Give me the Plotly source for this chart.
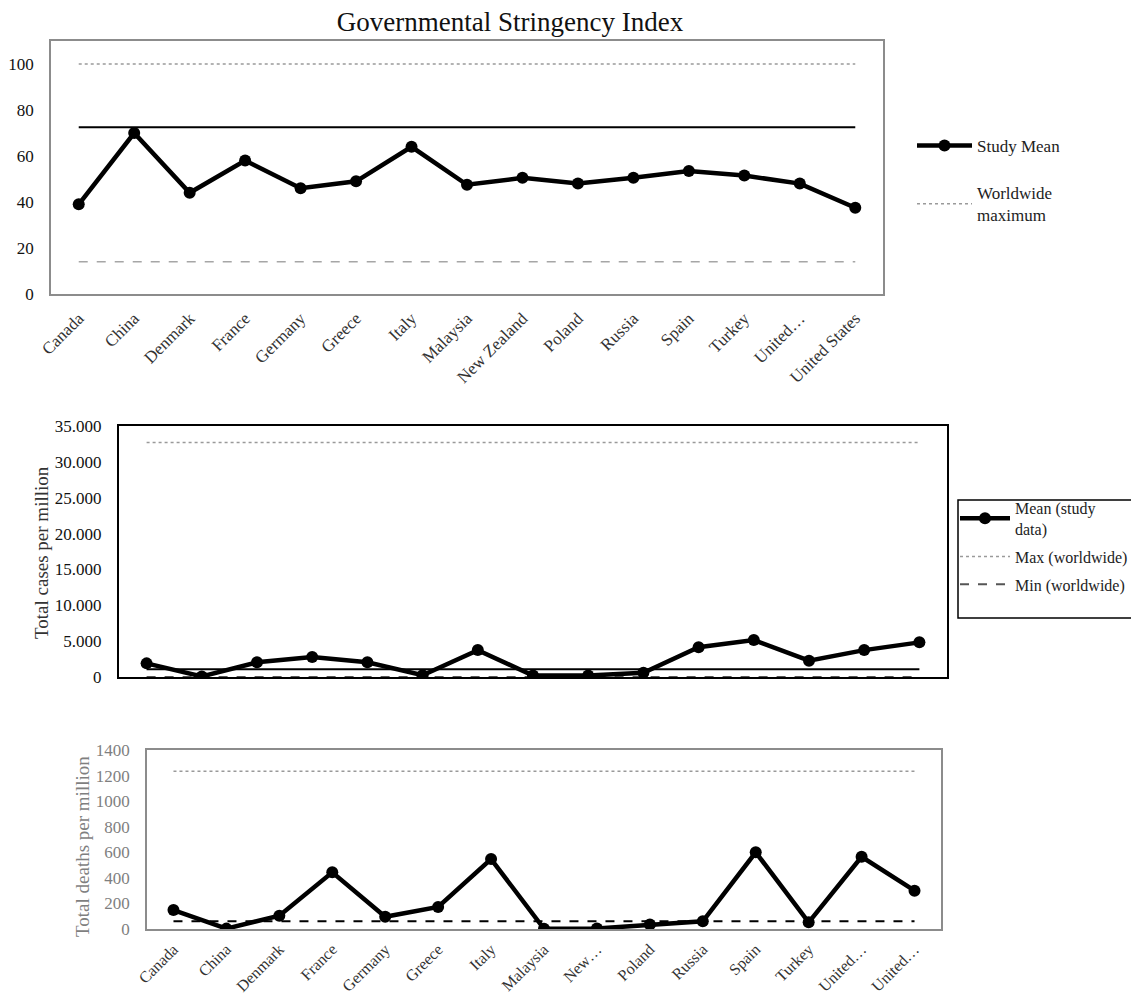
import plotly.graph_objects as go

# ---------------- data ----------------
countries = ["Canada", "China", "Denmark", "France", "Germany", "Greece", "Italy",
             "Malaysia", "New Zealand", "Poland", "Russia", "Spain", "Turkey",
             "United Kingdom", "United States"]
top_tick_labels = ["Canada", "China", "Denmark", "France", "Germany", "Greece", "Italy",
                   "Malaysia", "New Zealand", "Poland", "Russia", "Spain", "Turkey",
                   "United…", "United States"]
bottom_tick_labels = ["Canada", "China", "Denmark", "France", "Germany", "Greece", "Italy",
                      "Malaysia", "New…", "Poland", "Russia", "Spain", "Turkey",
                      "United…", "United…"]

stringency_study_mean = [39, 70, 44, 58, 46, 49, 64, 47.5, 50.5, 48, 50.5, 53.5, 51.5, 48, 37.5]
stringency_world_mean = 72.5
stringency_world_max = 100
stringency_world_min = 14

cases_study_mean = [1900, 80, 2050, 2800, 2050, 250, 3750, 200, 200, 600, 4150, 5150, 2270, 3750, 4830]
cases_world_mean = 1070
cases_world_max = 32700
cases_world_min = 0

deaths_study_mean = [148, 3, 104, 443, 96, 172, 547, 2, 4, 36, 60, 600, 52, 565, 300]
deaths_world_max = 1234
deaths_world_min = 60

stringency_ticks = [0, 20, 40, 60, 80, 100]
cases_ticks = [0, 5000, 10000, 15000, 20000, 25000, 30000, 35000]
cases_tick_text = ["0", "5.000", "10.000", "15.000", "20.000", "25.000", "30.000", "35.000"]
deaths_ticks = [0, 200, 400, 600, 800, 1000, 1200, 1400]

# ---------------- layout helpers ----------------
PAGE_W, PAGE_H = 1139, 999
OFF = 8  # default page body margin
W, H = PAGE_W - OFF, PAGE_H - OFF
FONT = "Liberation Serif, Times New Roman, serif"


def fx(px):
    return (px - OFF) / W


def fy(py):
    return 1 - (py - OFF) / H


def const(v):
    return [v] * len(countries)


fig = go.Figure()

# ---------- top chart: stringency ----------
fig.add_trace(go.Scatter(x=countries, y=const(stringency_world_max), mode="lines",
                         line=dict(color="#9a9a9a", width=1.5, dash="dot"),
                         name="Worldwide<br>maximum", legend="legend", legendgroup="b",
                         xaxis="x", yaxis="y", legendrank=2))
fig.add_trace(go.Scatter(x=countries, y=const(stringency_world_mean), mode="lines",
                         line=dict(color="black", width=2), showlegend=False,
                         name="Worldwide mean", xaxis="x", yaxis="y"))
fig.add_trace(go.Scatter(x=countries, y=const(stringency_world_min), mode="lines",
                         line=dict(color="#a6a6a6", width=1.5, dash="dash"), showlegend=False,
                         name="Worldwide minimum", xaxis="x", yaxis="y"))
fig.add_trace(go.Scatter(x=countries, y=stringency_study_mean, mode="lines+markers",
                         line=dict(color="black", width=4.5),
                         marker=dict(color="black", size=12),
                         name="Study Mean", legend="legend", legendgroup="a",
                         xaxis="x", yaxis="y", legendrank=1))

# ---------- middle chart: cases ----------
fig.add_trace(go.Scatter(x=countries, y=const(cases_world_max), mode="lines",
                         line=dict(color="#9a9a9a", width=1.5, dash="dot"),
                         name="Max (worldwide)", legend="legend2", legendgroup="m2",
                         xaxis="x2", yaxis="y2", legendrank=2))
fig.add_trace(go.Scatter(x=countries, y=const(cases_world_mean), mode="lines",
                         line=dict(color="black", width=2), showlegend=False,
                         name="Mean (worldwide)", xaxis="x2", yaxis="y2"))
fig.add_trace(go.Scatter(x=countries, y=const(cases_world_min), mode="lines",
                         line=dict(color="#555555", width=2, dash="dash"),
                         name="Min (worldwide)", legend="legend2", legendgroup="m3",
                         xaxis="x2", yaxis="y2", legendrank=3))
fig.add_trace(go.Scatter(x=countries, y=cases_study_mean, mode="lines+markers",
                         line=dict(color="black", width=4.5),
                         marker=dict(color="black", size=12),
                         name="Mean (study<br>data)", legend="legend2", legendgroup="m1",
                         xaxis="x2", yaxis="y2", legendrank=1))

# ---------- bottom chart: deaths ----------
fig.add_trace(go.Scatter(x=countries, y=const(deaths_world_max), mode="lines",
                         line=dict(color="#9a9a9a", width=1.5, dash="dot"), showlegend=False,
                         name="Max (worldwide)", xaxis="x3", yaxis="y3"))
fig.add_trace(go.Scatter(x=countries, y=const(deaths_world_min), mode="lines",
                         line=dict(color="black", width=2, dash="dash"), showlegend=False,
                         name="Min (worldwide)", xaxis="x3", yaxis="y3"))
fig.add_trace(go.Scatter(x=countries, y=deaths_study_mean, mode="lines+markers",
                         line=dict(color="black", width=4.5),
                         marker=dict(color="black", size=12), showlegend=False,
                         name="Mean (study data)", xaxis="x3", yaxis="y3"))

common_x = dict(type="category", categoryorder="array", categoryarray=countries,
                range=[-0.5, len(countries) - 0.5], showgrid=False, zeroline=False,
                mirror=True, showline=True, ticks="", fixedrange=True)
common_y = dict(showgrid=False, zeroline=False, mirror=True, showline=True, ticks="",
                ticklabelstandoff=12, fixedrange=True)

fig.update_layout(
    width=W, height=H,
    margin=dict(l=0, r=0, t=0, b=0, autoexpand=False),
    paper_bgcolor="white", plot_bgcolor="white",
    font=dict(family=FONT, size=17, color="black"),
    title=dict(text="Governmental Stringency Index", x=fx(510), xanchor="center",
               y=fy(22), yanchor="middle", font=dict(family=FONT, size=27, color="#111111")),
    xaxis=dict(common_x, domain=[fx(51), fx(883)], anchor="y",
               tickvals=countries, ticktext=top_tick_labels, tickangle=-45,
               linecolor="#8c8c8c", linewidth=1.5, ticklabelstandoff=6,
               tickfont=dict(family=FONT, size=17, color="#333333")),
    yaxis=dict(common_y, domain=[fy(294), fy(41)], anchor="x", range=[0, 110],
               tickvals=stringency_ticks, linecolor="#8c8c8c", linewidth=1.5,
               tickfont=dict(family=FONT, size=17, color="#111111")),
    xaxis2=dict(common_x, domain=[fx(119), fx(947)], anchor="y2",
                showticklabels=False, linecolor="black", linewidth=2),
    yaxis2=dict(common_y, domain=[fy(677), fy(426)], anchor="x2", range=[0, 35000],
                tickvals=cases_ticks, ticktext=cases_tick_text,
                linecolor="black", linewidth=2,
                tickfont=dict(family=FONT, size=17, color="#111111")),
    xaxis3=dict(common_x, domain=[fx(147), fx(941)], anchor="y3",
                tickvals=countries, ticktext=bottom_tick_labels, tickangle=-45,
                linecolor="#8c8c8c", linewidth=1.5, ticklabelstandoff=3,
                tickfont=dict(family=FONT, size=16, color="#333333")),
    yaxis3=dict(common_y, domain=[fy(929), fy(750)], anchor="x3", range=[0, 1400],
                tickvals=deaths_ticks, linecolor="#8c8c8c", linewidth=1.5,
                tickfont=dict(family=FONT, size=17, color="#7f7f7f")),
    legend=dict(x=fx(912), y=fy(128), xanchor="left", yanchor="top",
                bgcolor="rgba(0,0,0,0)", borderwidth=0, itemwidth=55,
                traceorder="grouped", tracegroupgap=22,
                font=dict(family=FONT, size=17, color="#222222")),
    legend2=dict(x=fx(955), y=fy(491), xanchor="left", yanchor="top",
                 bgcolor="rgba(0,0,0,0)", borderwidth=0, itemwidth=50,
                 traceorder="grouped", tracegroupgap=4,
                 font=dict(family=FONT, size=16, color="#222222")),
    shapes=[
        # frame around the cases legend (runs off the right edge as in the source)
        dict(type="rect", xref="paper", yref="paper", layer="below",
             x0=fx(958), x1=fx(1150), y0=fy(618), y1=fy(500),
             line=dict(color="black", width=1.5), fillcolor="white"),
    ],
    annotations=[
        dict(text="Total cases per million", xref="paper", yref="paper",
             x=fx(41), y=fy(553), xanchor="center", yanchor="middle", textangle=-90,
             showarrow=False, font=dict(family=FONT, size=19, color="#333333")),
        dict(text="Total deaths per million", xref="paper", yref="paper",
             x=fx(82), y=fy(847), xanchor="center", yanchor="middle", textangle=-90,
             showarrow=False, font=dict(family=FONT, size=19, color="#7f7f7f")),
    ],
)

fig.write_html("out.html")
